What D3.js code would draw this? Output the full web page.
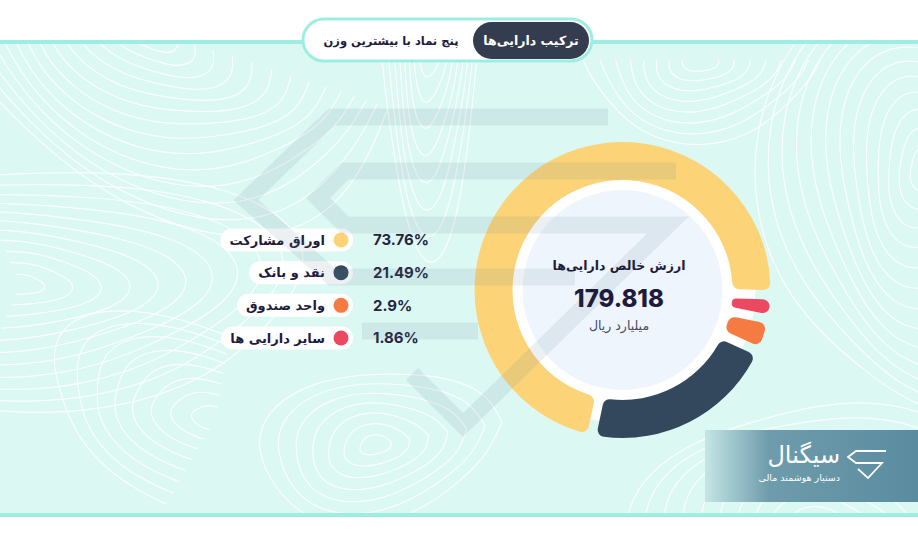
<!DOCTYPE html>
<html><head><meta charset="utf-8">
<script src="https://cdn.jsdelivr.net/npm/d3@7"></script>
<style>html,body{margin:0;padding:0;background:#fff;}svg{display:block;}</style>
</head><body>
<script>
// ---- data ----
const categories = ["اوراق مشارکت", "نقد و بانک", "واحد صندوق", "سایر دارایی ها"];
const values = [73.76, 21.49, 2.9, 1.86];
const valueLabels = ["73.76%", "21.49%", "2.9%", "1.86%"];
const colors = ["#fcd377", "#34485d", "#f57b42", "#ec4862"];
const ringOrder = [0, 3, 2, 1];
const centerTitle = "ارزش خالص دارایی\u200cها";
const centerValue = "179.818";
const centerUnit = "میلیارد ریال";
const tabs = ["ترکیب دارایی\u200cها", "پنج نماد با بیشترین وزن"];
const brand = "سیگنال";
const brandSub = "دستیار هوشمند مالی";

const W = 918, H = 541;
const svg = d3.select("body").append("svg").attr("width", W).attr("height", H);
const defs = svg.append("defs");
const lg = defs.append("linearGradient").attr("id", "logoGrad").attr("x1", 0).attr("x2", 1).attr("y1", 0).attr("y2", 0);
lg.append("stop").attr("offset", 0).attr("stop-color", "#c4e6e6");
lg.append("stop").attr("offset", 0.3).attr("stop-color", "#6e9cac");
lg.append("stop").attr("offset", 1).attr("stop-color", "#5a8b9f");
defs.append("clipPath").attr("id", "bgClip").append("rect").attr("x", 0).attr("y", 44).attr("width", W).attr("height", 469);

// background
svg.append("rect").attr("width", W).attr("height", H).attr("fill", "#fff");
svg.append("rect").attr("x", 0).attr("y", 44).attr("width", W).attr("height", 469).attr("fill", "#dcf8f3");
svg.append("rect").attr("x", 0).attr("y", 40).attr("width", W).attr("height", 4).attr("fill", "#9eede3");
svg.append("rect").attr("x", 0).attr("y", 513).attr("width", W).attr("height", 4).attr("fill", "#9eede3");

// decorative contour lines (background texture)
const cg = svg.append("g").attr("clip-path", "url(#bgClip)").attr("fill", "none")
  .attr("stroke", "#ffffff").attr("stroke-width", 1.2).attr("opacity", 0.9);
const line = d3.line().curve(d3.curveBasis);
function ellFamily(cx, cy, rx, ry, rotDeg, a0, a1, r0, r1, step) {
  const rot = rotDeg * Math.PI / 180;
  for (let r = r0; r <= r1; r += step) {
    const pts = [];
    for (let k = 0; k <= 16; k++) {
      const a = (a0 + (a1 - a0) * k / 16) * Math.PI / 180;
      const w = 1 + 0.08 * Math.sin(3 * a + r * 0.03);
      const x = r * rx * Math.cos(a) * w, y = r * ry * Math.sin(a) * w;
      pts.push([cx + x * Math.cos(rot) - y * Math.sin(rot), cy + x * Math.sin(rot) + y * Math.cos(rot)]);
    }
    cg.append("path").attr("d", line(pts));
  }
}
ellFamily(150, 30, 1.7, 1, 30, -20, 200, 18, 170, 11);
ellFamily(20, 285, 2.4, 1, 0, -100, 100, 10, 120, 11);
ellFamily(375, 445, 1.6, 1, -10, 0, 360, 10, 80, 11);
ellFamily(215, 420, 2.0, 1, 20, 95, 265, 12, 90, 11);
ellFamily(925, 170, 1, 1.5, 0, 90, 270, 15, 170, 12);
ellFamily(430, 25, 0.45, 2, 0, 0, 180, 15, 120, 12);
ellFamily(820, 540, 1.3, 1, 0, 180, 360, 20, 150, 12);
ellFamily(700, 60, 1.2, 0.8, 0, 0, 180, 15, 110, 12);

// donut
const cx = 622.5, cy = 290;
const dg = svg.append("g").attr("transform", `translate(${cx},${cy})`);
dg.append("circle").attr("r", 133).attr("fill", "#ffffff");
const S = 192 * Math.PI / 180;
const pie = d3.pie().sort(null).value(i => values[i]).startAngle(S).endAngle(S + 2 * Math.PI).padAngle(0.05);
const arc = d3.arc().innerRadius(110).outerRadius(148).cornerRadius(7);
dg.selectAll("path.slice").data(pie(ringOrder)).join("path").attr("class", "slice")
  .attr("d", arc).attr("fill", d => colors[d.data]);
dg.append("circle").attr("r", 100).attr("fill", "#eef5fd");

// legend
const ly = d3.scalePoint().domain(categories).range([240, 338]);
const leg = svg.append("g");
const rows = leg.selectAll("g").data(categories).join("g").attr("transform", d => `translate(0,${ly(d)})`);
const pills = rows.append("rect").attr("fill", "#ffffff").attr("y", -11.5).attr("height", 23).attr("rx", 11.5);
rows.append("circle").attr("cx", 341).attr("r", 7.5).attr("fill", (d, i) => colors[i]);
const labels = rows.append("text").attr("x", 325).attr("y", 0).attr("dy", "0.35em").attr("text-anchor", "end")
  .attr("font-family", "DejaVu Sans").attr("font-weight", "bold").attr("font-size", 13).attr("fill", "#1e1b3d")
  .text(d => d);
labels.each(function(d, i) {
  const w = this.getComputedTextLength();
  d3.select(pills.nodes()[i]).attr("x", 325 - w - 9).attr("width", 353 - (325 - w - 9));
});
rows.append("text").attr("x", 373).attr("dy", "0.36em").attr("font-family", "Inter").attr("font-weight", 700)
  .attr("font-size", 15).attr("fill", "#25233f").text((d, i) => valueLabels[i]);

// watermark logo (decorative)
const wm = svg.append("g").attr("fill", "none").attr("stroke", "rgb(100,130,150)").attr("stroke-opacity", 0.12)
  .attr("stroke-width", 17).attr("stroke-linejoin", "miter");
wm.append("path").attr("d", "M608,117 L332,117 L246,200 L332,277 L575,277");
wm.append("path").attr("d", "M676,171 L345,171 L318,198 L345,225 L668,225 L463,425 L412,374");
wm.append("path").attr("d", "M362,331 L478,331");

// center text
svg.append("text").attr("x", 619).attr("y", 266).attr("dy", "0.35em").attr("text-anchor", "middle")
  .attr("font-family", "DejaVu Sans").attr("font-weight", "bold").attr("font-size", 12.5).attr("fill", "#1e1b3d").text(centerTitle);
svg.append("text").attr("x", 619).attr("y", 298).attr("dy", "0.36em").attr("text-anchor", "middle")
  .attr("font-family", "Inter").attr("font-weight", 800).attr("font-size", 24).attr("fill", "#1e1b3d").text(centerValue);
svg.append("text").attr("x", 619).attr("y", 326).attr("dy", "0.35em").attr("text-anchor", "middle")
  .attr("font-family", "DejaVu Sans").attr("font-size", 12.5).attr("fill", "#4a4862").text(centerUnit);

// tabs
svg.append("rect").attr("x", 303).attr("y", 19).attr("width", 289).attr("height", 42).attr("rx", 21)
  .attr("fill", "#fff").attr("stroke", "#9eede3").attr("stroke-width", 3);
svg.append("rect").attr("x", 473).attr("y", 22).attr("width", 116).attr("height", 37).attr("rx", 18.5).attr("fill", "#343d50");
svg.append("text").attr("x", 531).attr("y", 41).attr("dy", "0.35em").attr("text-anchor", "middle")
  .attr("font-family", "DejaVu Sans").attr("font-weight", "bold").attr("font-size", 12.5).attr("fill", "#fff").text(tabs[0]);
svg.append("text").attr("x", 391).attr("y", 41).attr("dy", "0.35em").attr("text-anchor", "middle")
  .attr("font-family", "DejaVu Sans").attr("font-weight", "bold").attr("font-size", 11.5).attr("fill", "#1e1b3d").text(tabs[1]);

// brand box
svg.append("rect").attr("x", 705).attr("y", 430).attr("width", 213).attr("height", 72).attr("fill", "url(#logoGrad)");
svg.append("text").attr("x", 840).attr("y", 455).attr("dy", "0.35em").attr("text-anchor", "end")
  .attr("font-family", "DejaVu Sans").attr("font-size", 24).attr("fill", "#fff").text(brand);
svg.append("text").attr("x", 840).attr("y", 478).attr("dy", "0.35em").attr("text-anchor", "end")
  .attr("font-family", "DejaVu Sans").attr("font-size", 9.5).attr("fill", "#fff").text(brandSub);
svg.append("path").attr("d", "M886,451 L856,451 L848,457 L856,463 L882,463 L868,478 L858,469")
  .attr("fill", "none").attr("stroke", "#fff").attr("stroke-width", 1.8).attr("stroke-linejoin", "miter");
</script>
</body></html>
